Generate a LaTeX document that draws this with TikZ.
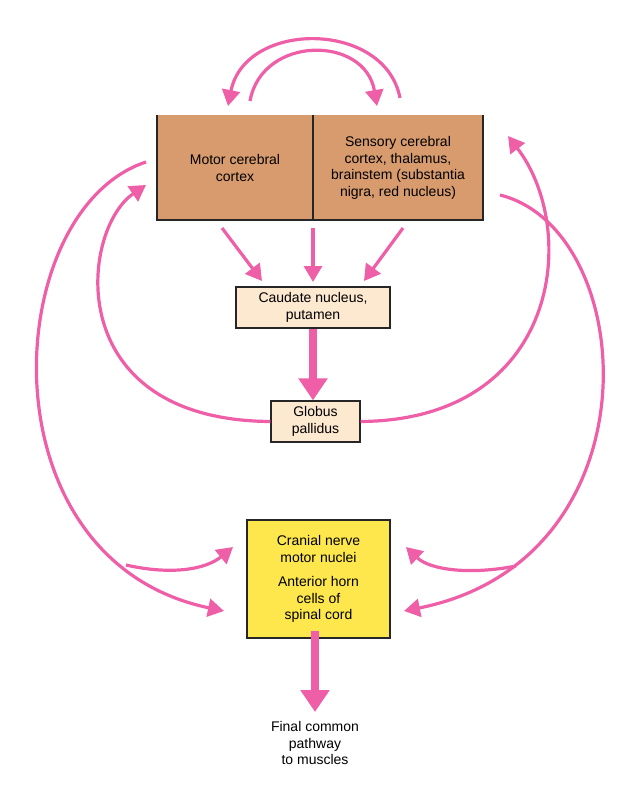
\documentclass[tikz,border=0pt]{standalone}
\usepackage{fontspec}
\setmainfont{Liberation Sans}
\usetikzlibrary{arrows.meta}
\definecolor{pathpink}{HTML}{EE5FA7}
\definecolor{cortexfill}{HTML}{D89B6E}
\definecolor{nucfill}{HTML}{FDE9D0}
\definecolor{hornfill}{HTML}{FDE74C}
\begin{document}
\begin{tikzpicture}[x=1pt,y=-1pt,font=\fontsize{14}{16.5}\selectfont]
    \tikzstyle{pathway}=[draw=pathpink,line width=3.2pt,-{Triangle[width=18pt,length=16pt]}]
    \tikzstyle{bigpath}=[draw=pathpink,line width=8pt,-{Triangle[width=28pt,length=22pt]}]
    \tikzstyle{area}=[draw=black!85,line width=1.3pt,align=center,inner sep=0pt]

    \useasboundingbox (0,0) rectangle (640,792);

    % Cortex block (no top edge)
    \fill[cortexfill] (157,115) rectangle (483,220);
    \draw[black!85,line width=2.5pt] (157,115) -- (157,220) -- (483,220) -- (483,115);
    \draw[black!85,line width=1.5pt] (313,115) -- (313,220);
    \node (motor) at (235,168) [align=center] {Motor cerebral\\cortex};
    \node (sensory) at (398,168) [align=center] {Sensory cerebral\\cortex, thalamus,\\brainstem (substantia\\nigra, red nucleus)};

    % Basal ganglia and lower centres
    \node (caudate) at (313,307.5) [area,fill=nucfill,minimum width=154pt,minimum height=41pt] {Caudate nucleus,\\putamen};
    \node (globus) at (315.5,421.5) [area,fill=nucfill,minimum width=89pt,minimum height=41pt] {Globus\\pallidus};
    \node (horn) at (318.5,579) [area,fill=hornfill,minimum width=143pt,minimum height=118pt]
        {Cranial nerve\\motor nuclei\\[8pt]Anterior horn\\cells of\\spinal cord};
    \node (final) at (315,743) [align=center] {Final common\\pathway\\to muscles};
    \coordinate (muscles) at (315,712);

    % Loops over the cortex
    \draw[pathway] (250,101) .. controls (262,35) and (365,35) .. (377,106);
    \draw[pathway] (400,98) .. controls (385,20) and (245,20) .. (228,106);

    % Cortex to striatum
    \draw[pathway] (222,228) -- (262,281);
    \draw[pathway] (313,228) -- (313,282);
    \draw[pathway] (403,228) -- (364,281);
    \draw[bigpath] (caudate.south) -- (caudate.south |- globus.north);

    % Return loops from globus pallidus
    \draw[pathway] (globus.west) .. controls (60,420) and (80,230) .. (146,185);
    \draw[pathway] (globus.east) .. controls (560,420) and (580,230) .. (508,136);

    % Descending pathways
    \draw[pathway] (146,162) .. controls (0,210) and (-20,560) .. (224,611);
    \draw[pathway] (126,565) .. controls (170,575) and (205,570) .. (233,547);
    \draw[pathway] (500,195) .. controls (640,230) and (660,560) .. (404,611);
    \draw[pathway] (516,566) .. controls (470,575) and (430,570) .. (406,547);
    \draw[bigpath] ([yshift=8pt]horn.south -| muscles) -- (muscles);
\end{tikzpicture}
\end{document}
